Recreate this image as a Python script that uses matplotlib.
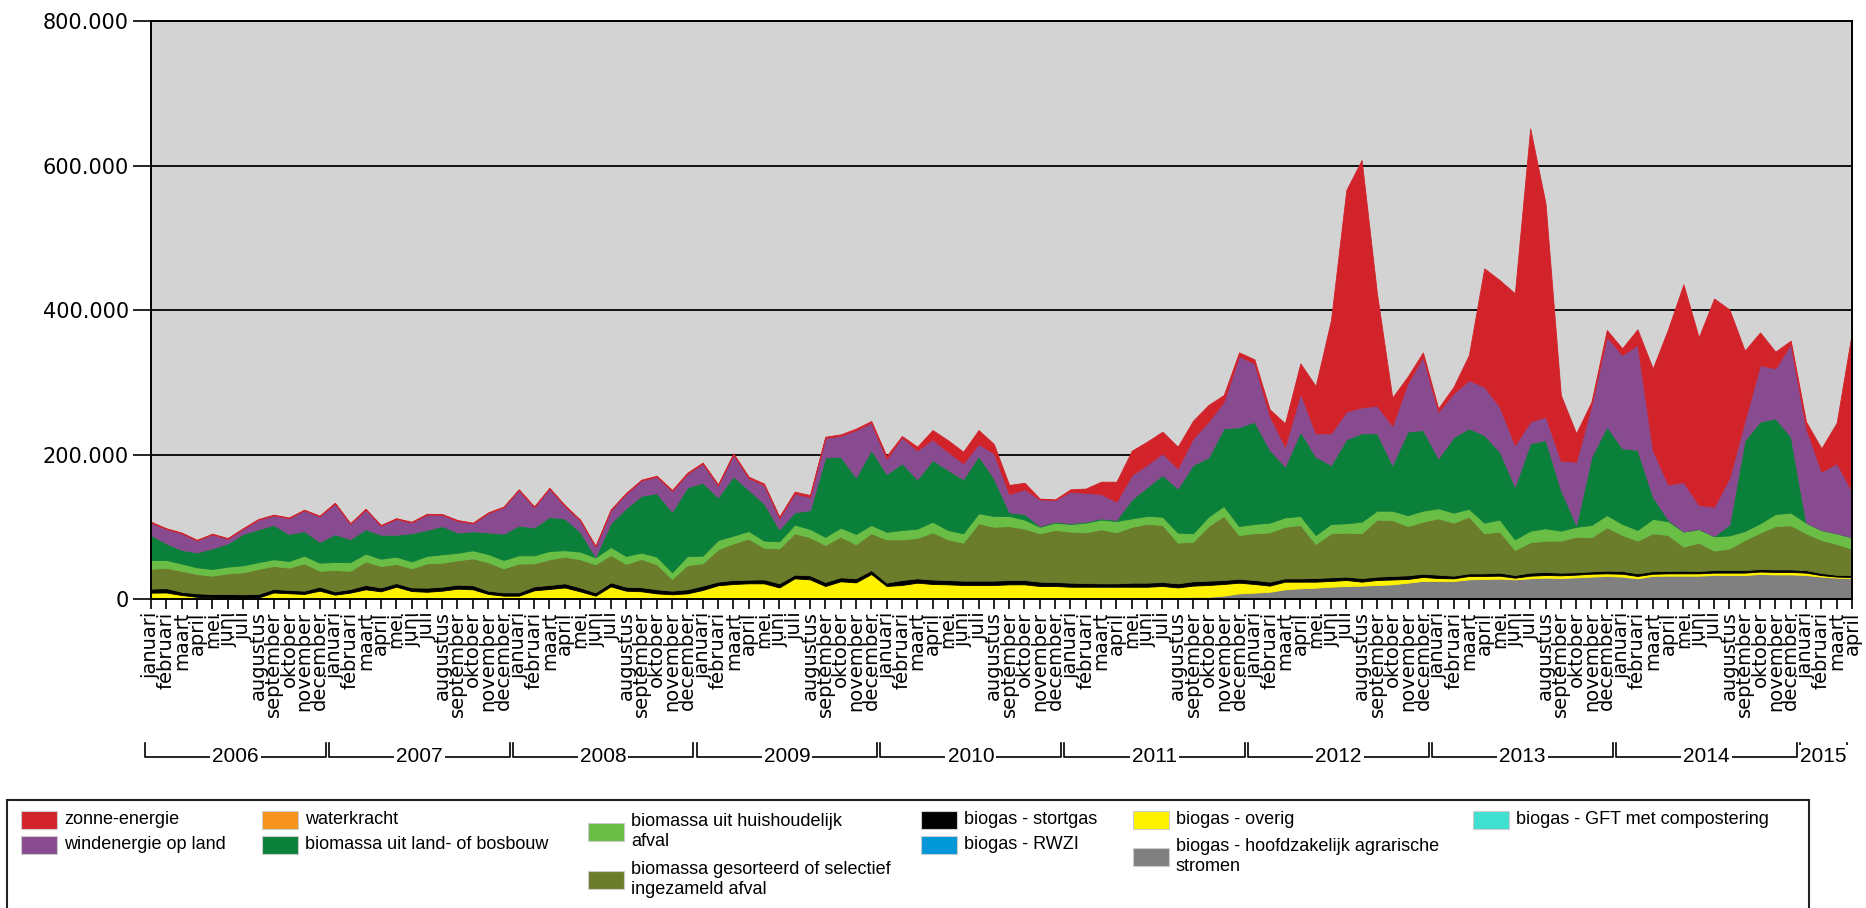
import matplotlib
matplotlib.use('Agg')
import matplotlib.pyplot as plt
import matplotlib.transforms as mtransforms
from matplotlib.patches import Rectangle
from matplotlib.ticker import FuncFormatter

MONTHS = ['januari', 'februari', 'maart', 'april', 'mei', 'juni', 'juli',
          'augustus', 'september', 'oktober', 'november', 'december']
YEARS = ['2006', '2007', '2008', '2009', '2010', '2011', '2012', '2013', '2014', '2015']
YEAR_MONTHS = [12, 12, 12, 12, 12, 12, 12, 12, 12, 4]

# monthly values (x 1000), januari 2006 .. april 2015, one row per year
agrarisch = [0, 0, 0, 0, 0, 0, 0, 0, 0, 0, 0, 0,
             0, 0, 0, 0, 0, 0, 0, 0, 0, 0, 0, 0,
             0, 0, 0, 0, 0, 0, 0, 0, 0, 0, 0, 0,
             0, 0, 0, 0, 0, 0, 0, 0, 0, 0, 0, 0,
             0, 0, 0, 0, 0, 0, 0, 0, 0, 0, 0, 0,
             0, 0, 0, 0, 0.5, 1, 1, 1.5, 3, 3, 4.6, 7.8,
             8.8, 10, 13.4, 14.8, 15.7, 17, 18, 18.5, 19.4, 20.3, 22.6, 25,
             25, 25, 27.2, 27.7, 28.2, 27.2, 28.6, 29.5, 29, 30, 31, 31.9,
             31, 28.6, 32, 32.3, 32.3, 32.3, 33.2, 33.2, 33.2, 34.6, 34, 34,
             33.2, 31, 29.5, 29]
overig = [8.8, 9, 5.5, 3, 2.3, 2, 2, 2, 9, 8, 7, 11.5,
          6, 8.8, 13.4, 10.6, 17, 11, 10, 11.5, 14.3, 13.4, 7, 4.6,
          4.6, 12, 13.9, 16, 10.6, 4.6, 17.5, 11.5, 10.7, 7.8, 6.5, 7.8,
          12.5, 19, 20.8, 21.7, 21.7, 16, 28.6, 27.2, 18, 24.5, 23, 34.6,
          18, 19.4, 22.6, 20.8, 20.3, 19.4, 19.4, 19.4, 20.3, 20.3, 18, 18,
          17, 17, 17, 17, 16.5, 16, 17, 14.5, 15.5, 16.4, 16.2, 14.8,
          12, 8.5, 10.6, 9.2, 8.3, 8, 8.3, 5.5, 6.9, 6.7, 5.1, 5.5,
          4, 3.6, 4.7, 4.2, 4.1, 2.3, 3.7, 3.7, 3.8, 3.7, 4, 3.6,
          4, 3.3, 3, 3.2, 3.2, 3.2, 3.3, 3.3, 3.3, 3.4, 3.5, 3.5,
          3.3, 2, 1.5, 1.5]
stortgas = [5.5, 6, 4.5, 4.8, 4.7, 5, 4.5, 5, 5, 4.5, 4.5, 5.5,
            4.6, 5, 6, 5.4, 5, 5, 5.7, 5.5, 5.6, 5.6, 4.5, 4.6,
            4.6, 5.5, 5.5, 5.7, 5.4, 4.6, 5.5, 5.5, 5.6, 5.6, 5, 5.6,
            6, 5, 5.5, 5.1, 5.5, 5.7, 5.1, 5.6, 5.5, 5.5, 5.6, 5.4,
            4.6, 6.9, 6, 6.2, 6, 6, 6, 6, 6, 6, 6, 5.5,
            5.6, 5, 4.7, 4.7, 5.6, 5.6, 5.5, 5.7, 6, 6, 5.5, 5.4,
            5.5, 5.5, 4.6, 4.6, 5, 5, 4.7, 5, 4.7, 4.9, 5.1, 4.5,
            4.7, 3.7, 3.6, 3.6, 4.2, 3.7, 4.2, 4.2, 3.7, 3.3, 3.3, 3.7,
            3.8, 3.6, 3.5, 3.3, 3.7, 3.3, 3.5, 3.5, 3.5, 3.5, 3.5, 3.5,
            3.5, 3, 2.5, 2.5]
gesorteerd = [27.7, 28, 29, 26.8, 25.3, 28.5, 30.5, 34.5, 31.7, 30.9, 37.9, 22,
              29.6, 25.2, 32.6, 29.7, 26.5, 26.5, 33.7, 33.3, 33.6, 37.3, 39.3, 33.3,
              39.8, 31.9, 35.6, 36.9, 39, 38.8, 38, 31.5, 39.2, 34.6, 16.2, 33.6,
              30.9, 44.8, 50.7, 56.8, 43.8, 48.3, 57.3, 52.6, 51.3, 56.3, 47.1, 51,
              60, 56.3, 55.9, 65.3, 56.3, 52.6, 79.4, 74.6, 74.7, 71.1, 67, 72.1,
              70.7, 70.3, 74.8, 70.6, 77.4, 81.4, 79, 56.3, 54.9, 75.6, 88.7, 60.6,
              64.7, 68.3, 71.4, 73.9, 47.2, 61, 60.9, 62, 79, 77.5, 68.2, 72,
              78, 73.4, 78.5, 55.5, 56.8, 34.7, 42, 43.4, 44.3, 49.3, 47.1, 60.1,
              49.8, 45.3, 52.5, 49.8, 33.3, 39.2, 27, 30, 41.7, 50.4, 60, 61,
              51, 45.7, 42.7, 36.3]
huishoudelijk = [12, 11, 10, 9.3, 9.2, 9.3, 9.6, 9.5, 9.3, 9.2, 10.6, 11.3,
                 11, 12, 10.8, 10.1, 10.1, 9.5, 10.2, 11.6, 10.5, 11.1, 11.5, 11.5,
                 11.5, 11.1, 11.5, 9, 10.6, 9.7, 11, 11.1, 8.8, 10.6, 9.3, 12.6,
                 10.6, 12.9, 10.7, 10.6, 9.8, 10, 12, 11.6, 11.2, 12.5, 14.3, 11.5,
                 10.4, 13, 12.9, 14.7, 13, 13, 13.9, 15, 14, 12.6, 9, 10.1,
                 10.6, 13.4, 13.5, 15.7, 11.7, 11, 11.5, 14, 11.6, 13, 13.8, 12.4,
                 13, 13.4, 13, 12.5, 12.4, 13, 12.9, 16, 12.3, 12.9, 15, 15.3,
                 13.9, 13.9, 11, 14.7, 16.7, 14.7, 16.1, 17.1, 13.8, 13.7, 17.1, 17,
                 15.4, 14.8, 20, 19, 21, 19, 20, 18, 12.5, 12.9, 16.7, 17.6,
                 14.7, 13.9, 14.8, 16.1]
land_bosbouw = [34.6, 23, 19, 20.7, 28.5, 32.2, 43.4, 45.5, 47.5, 37.4, 34, 28.7,
                38.4, 32, 33.7, 33.2, 30.4, 39, 36, 39.1, 28, 26.3, 30, 36.5,
                41.1, 38.5, 47.1, 43.8, 27.4, 0.9, 33, 66, 78.7, 87.8, 84, 95.1,
                101, 59.1, 82.3, 56.8, 51.7, 16.5, 17, 26, 110, 98.2, 78.5, 103.9,
                80, 92.4, 68.3, 85.5, 83.1, 75, 79.3, 52, 5, 7.7, 1, 1.3,
                1, 1.3, 1.7, 1.4, 26.3, 40, 57.7, 61, 94.6, 82, 107.6, 136.8,
                141.6, 100.7, 70.3, 116.8, 108.4, 81.6, 116.2, 122.5, 107.2, 63.3, 115.8, 111.7,
                69.2, 104.4, 111.4, 121.3, 94, 73, 121, 122.1, 56.4, 2.5, 94.5, 122.4,
                104.7, 110.8, 30.5, 2, 0, 0, 0, 15.2, 125.8, 140.8, 132.5, 105.2,
                0, 0, 0, 0]
wind = [17.4, 20, 23, 16.4, 19.5, 6.5, 7, 13.5, 13.5, 22, 29, 35.5,
        42.9, 21, 27.5, 12.5, 22, 15, 21.4, 15.7, 16.4, 11, 26.7, 36.5,
        49.4, 28.3, 39.4, 17.6, 16, 13.9, 18, 20.4, 21, 23.1, 28.5, 18.8,
        26.5, 16.5, 30, 16.5, 25.5, 15.5, 26, 18.5, 27, 29, 65.5, 37.6,
        21, 36, 40.3, 28.5, 25.3, 22, 16.7, 34.8, 25.4, 34.3, 37, 30,
        43.8, 40, 33.7, 25.4, 33.7, 31, 30.1, 28, 36.9, 49.6, 36.9, 98.8,
        80.8, 47.1, 27.7, 53.1, 32.5, 43.9, 38.5, 36, 38.3, 54.4, 66.9, 101.6,
        64.7, 60.9, 66.6, 67, 62.4, 57.7, 30, 32.5, 40.6, 87.7, 71.7, 124.6,
        129.3, 145.4, 64.7, 48.8, 68.3, 33.2, 40.7, 64.6, 27, 78.4, 69.3, 128.2,
        130.7, 80.8, 96.9, 63.3]
zon = [1, 1, 1, 1, 1, 1, 1, 0.8, 0.8, 1, 0.7, 0.9,
       0.9, 1, 1, 1, 1, 1, 1, 1, 1, 1, 1, 0.9,
       1, 1, 1, 1, 1, 0.9, 1, 1, 1.3, 1.3, 1.5, 1.5,
       1.5, 1.5, 1.8, 1.9, 2, 2, 2.7, 2.5, 1.8, 2, 2, 2.5,
       4, 1.8, 5, 13, 16, 16, 19.3, 12.9, 12.6, 9, 1, 1,
       3.2, 6, 17.1, 27.7, 33.7, 32, 30, 30, 24.5, 23.1, 9.2, 5,
       5.6, 9.2, 32.3, 41.5, 65.5, 156.9, 307, 342.5, 155.6, 39, 9.3, 6,
       4.5, 9.1, 35, 164, 175.4, 210.1, 406.3, 295.5, 90.9, 39.3, 4.6, 9.3,
       9.2, 21.7, 113.1, 215.6, 274.1, 232.2, 288.5, 233.2, 97, 45.3, 23.1, 4.8,
       9.2, 32.3, 56.3, 221.6]

COLORS = {
    'zonne-energie': '#d2232a',
    'windenergie op land': '#884b8f',
    'waterkracht': '#f7941d',
    'biomassa uit land- of bosbouw': '#0b803a',
    'biomassa uit huishoudelijk afval': '#6abd45',
    'biomassa gesorteerd of selectief ingezameld afval': '#6b7d2b',
    'biogas - stortgas': '#000000',
    'biogas - RWZI': '#0097d8',
    'biogas - overig': '#fff200',
    'biogas - hoofdzakelijk agrarische stromen': '#808080',
    'biogas - GFT met compostering': '#40e0d0',
}

W, H = 1866, 908


def fx(px):
    return px / W


def fy(py):
    return 1 - py / H


def main():
    labels = []
    for n in YEAR_MONTHS:
        labels += MONTHS[:n]
    x = list(range(len(labels)))

    fig = plt.figure(figsize=(W / 100, H / 100), dpi=100)
    ax = fig.add_axes([fx(151), fy(599), fx(1852 - 151), (599 - 21.4) / H])
    ax.set_facecolor('#d3d3d3')

    layers = [
        (agrarisch, 'biogas - hoofdzakelijk agrarische stromen'),
        (overig, 'biogas - overig'),
        (stortgas, 'biogas - stortgas'),
        (gesorteerd, 'biomassa gesorteerd of selectief ingezameld afval'),
        (huishoudelijk, 'biomassa uit huishoudelijk afval'),
        (land_bosbouw, 'biomassa uit land- of bosbouw'),
        (wind, 'windenergie op land'),
        (zon, 'zonne-energie'),
    ]
    cols = [COLORS[name] for _, name in layers]
    polys = ax.stackplot(x, *[vals for vals, _ in layers], colors=cols)
    for p, c in zip(polys, cols):
        p.set_edgecolor(c)
        p.set_linewidth(0.6)

    ax.set_xlim(0, len(x) - 1)
    ax.set_ylim(0, 800)
    ax.set_yticks([0, 200, 400, 600, 800])
    ax.yaxis.set_major_formatter(FuncFormatter(lambda v, p: f"{int(v * 1000):,}".replace(',', '.')))
    ax.set_xticks(x)
    ax.set_xticklabels(labels, rotation=90, fontsize=14)
    ax.tick_params(axis='x', length=7, width=1.2, pad=2, color='black')
    ax.tick_params(axis='y', length=13, width=1.2, pad=3, labelsize=15, color='black')
    ax.set_axisbelow(True)
    ax.yaxis.grid(True, color='black', linewidth=1.3)
    for s in ax.spines.values():
        s.set_color('black')
        s.set_linewidth(1.4)

    # year brackets below the month labels
    trans = mtransforms.blended_transform_factory(ax.transData, fig.transFigure)
    y_top, y_line = fy(743), fy(757)
    start = 0
    for year, n in zip(YEARS, YEAR_MONTHS):
        x0 = start - 0.4
        x1 = min(start + n - 1 + 0.4, len(x) - 1 - 0.3)
        ax.plot([x0, x0, x1, x1], [y_top, y_line, y_line, y_top], color='black',
                lw=1.2, transform=trans, clip_on=False)
        ax.text((x0 + x1) / 2, y_line, year, transform=trans, ha='center', va='center',
                fontsize=15, family='Liberation Sans',
                bbox=dict(facecolor='white', edgecolor='none', pad=1.5))
        start += n

    # legend box
    fig.patches.append(Rectangle((fx(7), -0.05), fx(1809 - 7), fy(800) + 0.05,
                                 transform=fig.transFigure, fill=False,
                                 edgecolor='#222222', linewidth=1.5))
    entries = [
        ('zonne-energie', 'zonne-energie', 21, 820),
        ('windenergie op land', 'windenergie op land', 21, 844.5),
        ('waterkracht', 'waterkracht', 262, 820),
        ('biomassa uit land- of bosbouw', 'biomassa uit land- of bosbouw', 262, 844.5),
        ('biomassa uit huishoudelijk afval', 'biomassa uit huishoudelijk\nafval', 588, 831.5),
        ('biomassa gesorteerd of selectief ingezameld afval',
         'biomassa gesorteerd of selectief\ningezameld afval', 588, 879.5),
        ('biogas - stortgas', 'biogas - stortgas', 921, 820),
        ('biogas - RWZI', 'biogas - RWZI', 921, 844.5),
        ('biogas - overig', 'biogas - overig', 1133, 820),
        ('biogas - hoofdzakelijk agrarische stromen',
         'biogas - hoofdzakelijk agrarische\nstromen', 1133, 856.5),
        ('biogas - GFT met compostering', 'biogas - GFT met compostering', 1473, 820),
    ]
    for name, text, px, py in entries:
        fig.patches.append(Rectangle((fx(px), fy(py + 9)), fx(36), 18 / H,
                                     transform=fig.transFigure,
                                     facecolor=COLORS[name], edgecolor='#cccccc', linewidth=0.8))
        fig.text(fx(px + 43), fy(py), text, ha='left', va='center', fontsize=13,
                 family='Liberation Sans', linespacing=1.25)

    fig.savefig('out.png', dpi=100)


if __name__ == '__main__':
    main()
